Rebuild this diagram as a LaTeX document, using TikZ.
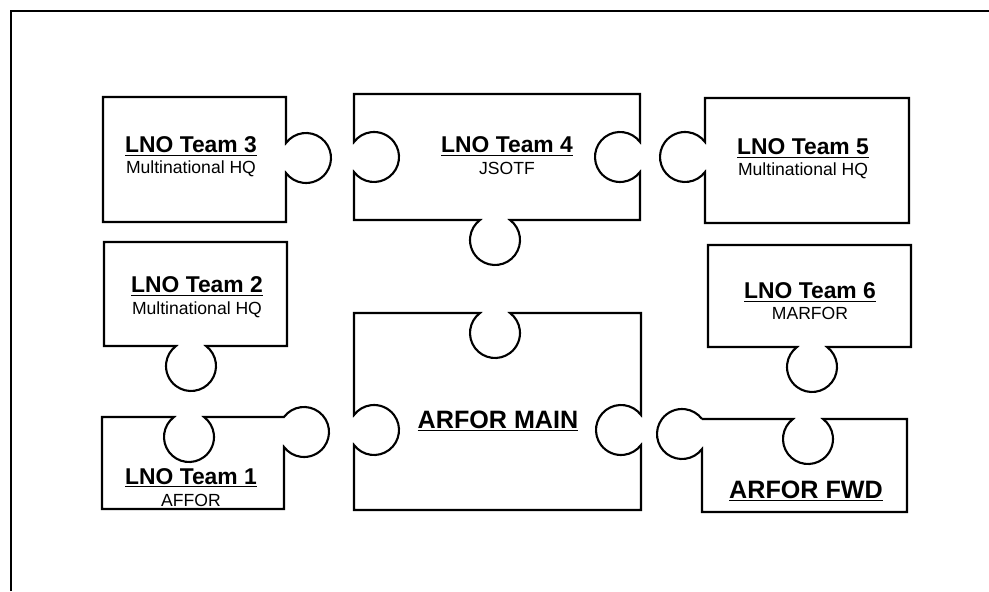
\documentclass[tikz,border=0pt]{standalone}
\usepackage{fontspec}
\setmainfont{Liberation Sans}
\usetikzlibrary{positioning}

\begin{document}
\begin{tikzpicture}[x=0.2mm, y=0.2mm,
      piece/.style={draw, line width=1.2pt},
      teamname/.style={anchor=base, inner sep=0pt, font=\fontsize{13}{15}\selectfont\bfseries},
      hqname/.style={anchor=base, inner sep=0pt, font=\fontsize{10}{12}\selectfont},
      armyname/.style={anchor=base, inner sep=0pt, font=\fontsize{14.3}{17}\selectfont\bfseries}
    ]
      \useasboundingbox (0,0) rectangle (989,591);
      % frame
      \draw[line width=1.2pt] (11,0) -- (11,580) -- (989,580);

      % LNO Team 3
      \draw[piece] (103,494) -- (286,494) -- (286,448)
        arc[start angle=143.13, delta angle=-286.26, radius=5mm]
        -- (286,369) -- (103,369) -- cycle;
      % LNO Team 4
      \draw[piece] (354,497) -- (640,497) -- (640,449)
        arc[start angle=36.87, delta angle=286.26, radius=5mm]
        -- (640,371) -- (510,371)
        arc[start angle=53.13, delta angle=-286.26, radius=5mm]
        -- (354,371) -- (354,419)
        arc[start angle=216.87, delta angle=286.26, radius=5mm]
        -- cycle;
      % LNO Team 5
      \draw[piece] (705,493) -- (909,493) -- (909,368) -- (705,368) -- (705,419)
        arc[start angle=323.13, delta angle=-286.26, radius=5mm]
        -- cycle;
      % LNO Team 2
      \draw[piece] (104,349) -- (287,349) -- (287,245) -- (206,245)
        arc[start angle=53.13, delta angle=-286.26, radius=5mm]
        -- (104,245) -- cycle;
      % LNO Team 1
      \draw[piece] (102,174) -- (174,174)
        arc[start angle=126.87, delta angle=286.26, radius=5mm]
        -- (284,174)
        arc[start angle=143.13, delta angle=-286.26, radius=5mm]
        -- (284,82) -- (102,82) -- cycle;
      % ARFOR MAIN
      \draw[piece] (354,278) -- (480,278)
        arc[start angle=126.87, delta angle=286.26, radius=5mm]
        -- (641,278) -- (641,176)
        arc[start angle=36.87, delta angle=286.26, radius=5mm]
        -- (641,81) -- (354,81) -- (354,146)
        arc[start angle=216.87, delta angle=286.26, radius=5mm]
        -- cycle;
      % LNO Team 6
      \draw[piece] (708,346) -- (911,346) -- (911,244) -- (827,244)
        arc[start angle=53.13, delta angle=-286.26, radius=5mm]
        -- (708,244) -- cycle;
      % ARFOR FWD
      \draw[piece] (702,172) -- (793,172)
        arc[start angle=126.87, delta angle=286.26, radius=5mm]
        -- (907,172) -- (907,79) -- (702,79) -- (702,142)
        arc[start angle=323.13, delta angle=-286.26, radius=5mm]
        -- cycle;

      % labels
      \node[teamname] (team3) at (191,438) {\underline{LNO Team 3}};
      \node[hqname] (hq3) at (191,417) {Multinational HQ};
      \node[teamname] (team4) at (507,438) {\underline{LNO Team 4}};
      \node[hqname] (hq4) at (507,416) {JSOTF};
      \node[teamname] (team5) at (803,436) {\underline{LNO Team 5}};
      \node[hqname] (hq5) at (803,415) {Multinational HQ};
      \node[teamname] (team2) at (197,298) {\underline{LNO Team 2}};
      \node[hqname] (hq2) at (197,276) {Multinational HQ};
      \node[teamname] (team1) at (191,107) {\underline{LNO Team 1}};
      \node[hqname] (hq1) at (191,85) {AFFOR};
      \node[teamname] (team6) at (810,292) {\underline{LNO Team 6}};
      \node[hqname] (hq6) at (810,271) {MARFOR};
      \node[armyname] (main) at (498,163) {\underline{ARFOR MAIN}};
      \node[armyname] (fwd) at (806,93) {\underline{ARFOR FWD}};
    \end{tikzpicture}
\end{document}
